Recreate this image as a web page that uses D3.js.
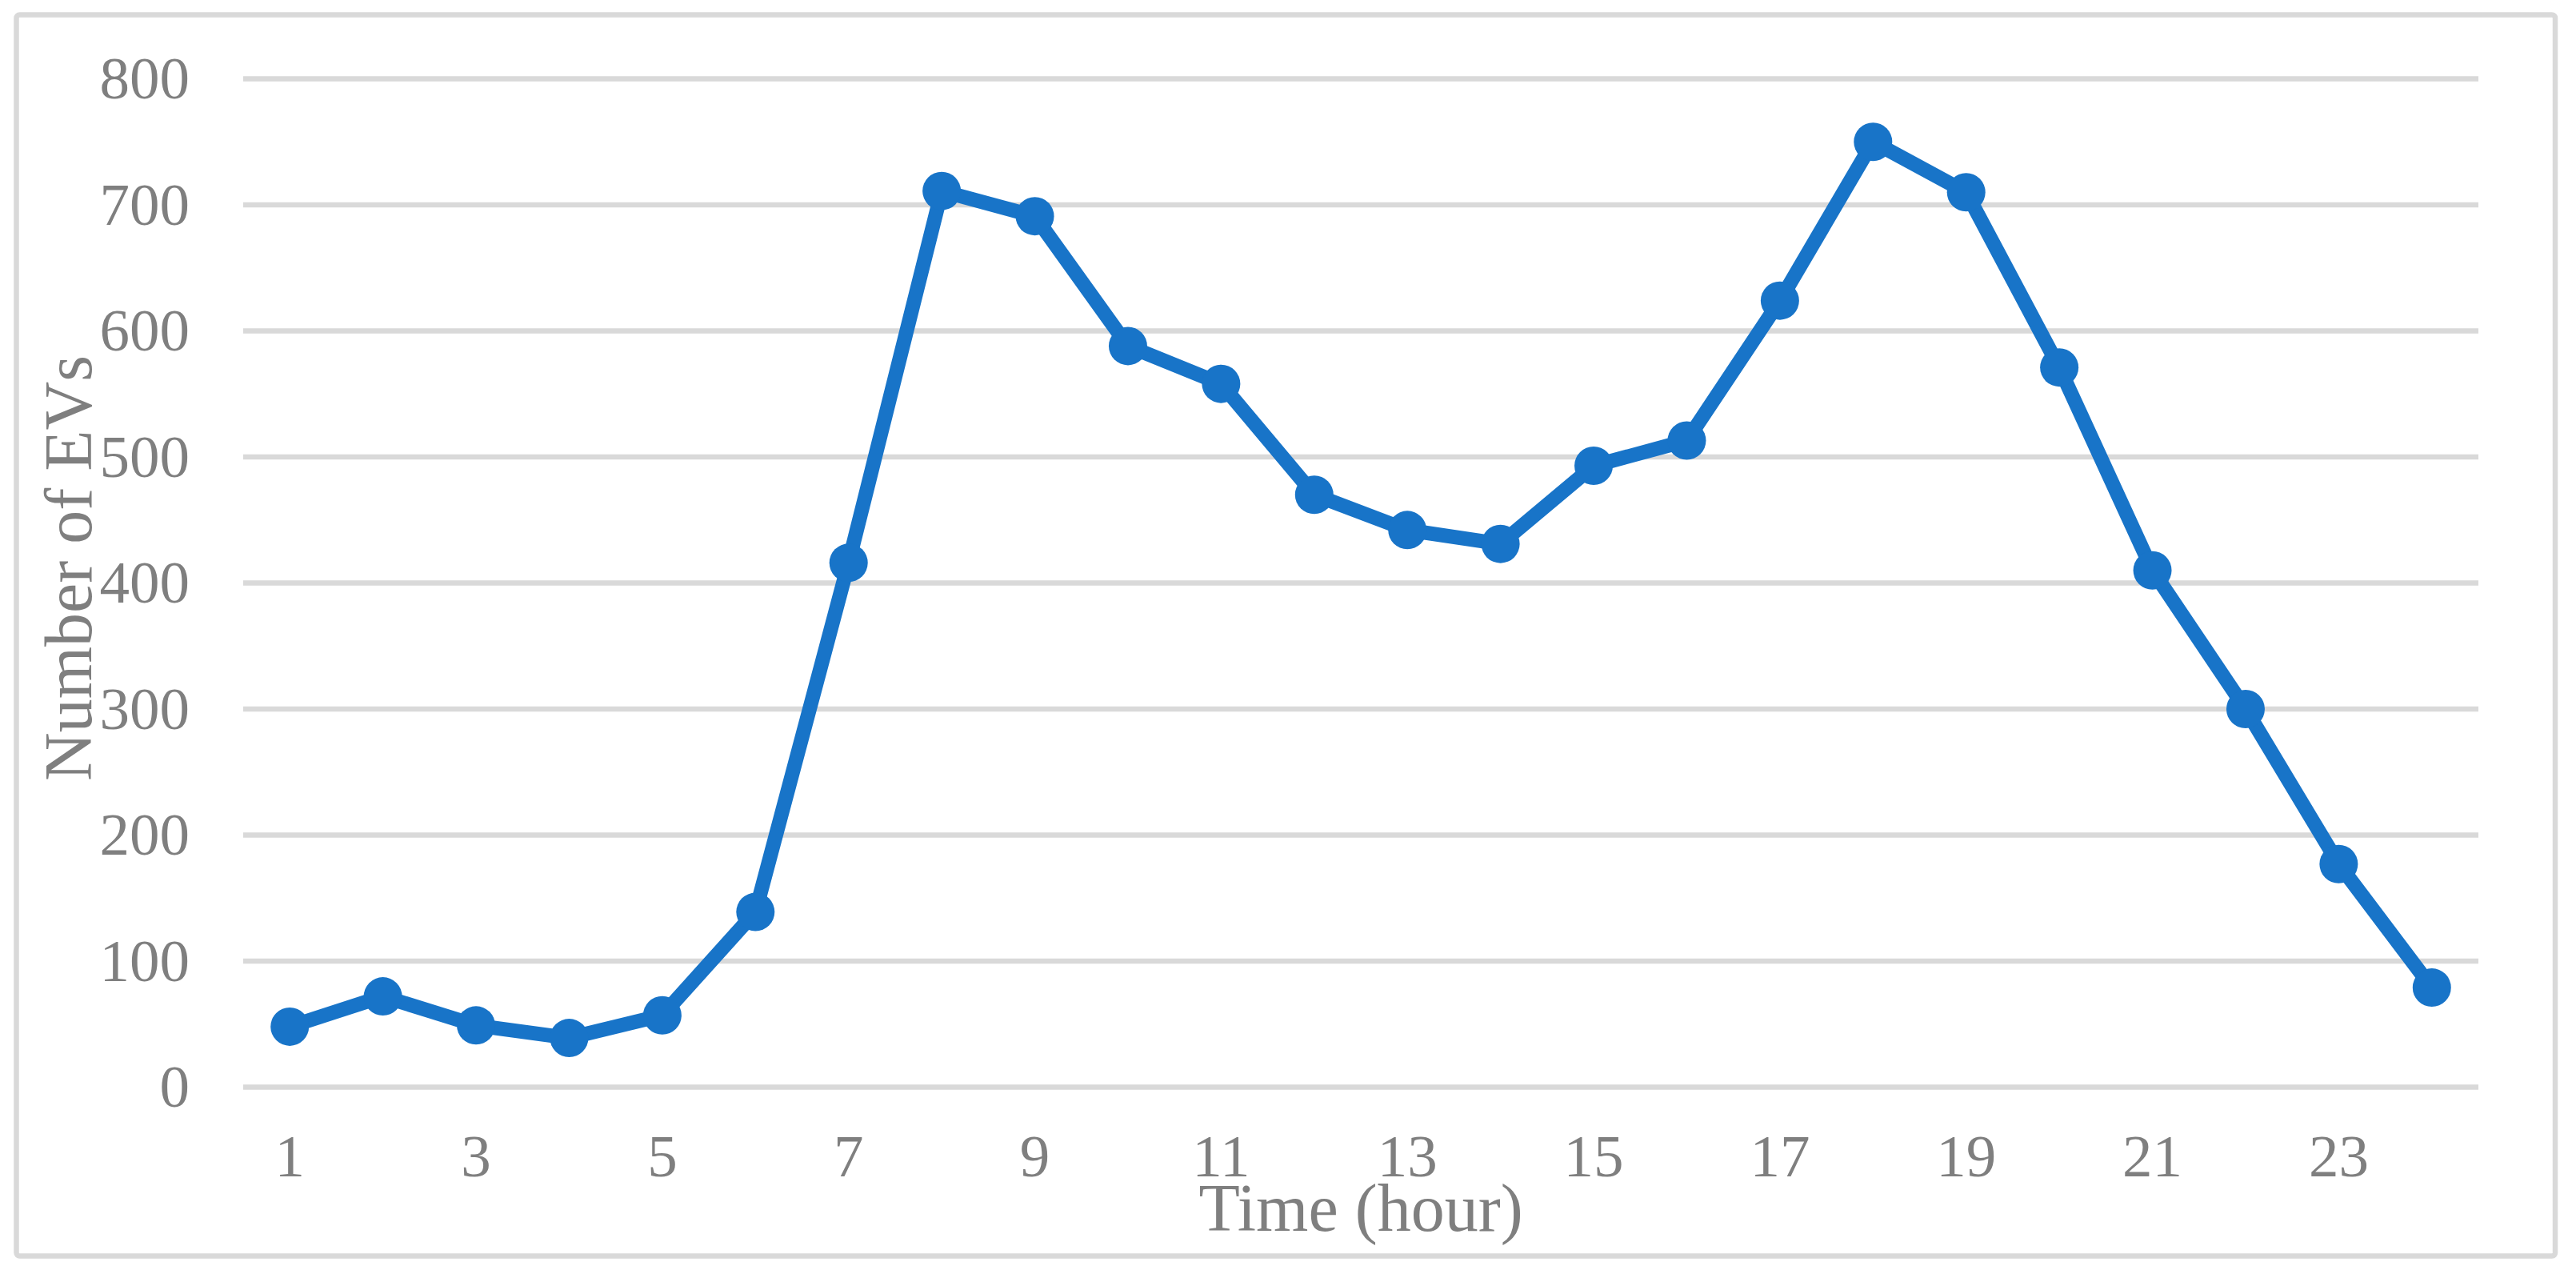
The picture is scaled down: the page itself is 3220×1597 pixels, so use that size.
<!DOCTYPE html>
<html>
<head>
<meta charset="utf-8">
<script src="https://cdn.jsdelivr.net/npm/d3@7"></script>
<style>
  body { margin: 0; background: #ffffff; }
  #chart { width: 3220px; height: 1597px; }
  .axis text { font-family: "Liberation Serif", "Times New Roman", serif; fill: #7f7f7f; }
</style>
</head>
<body>
<div id="chart"></div>
<script>
//hours of the day (categories)
var hours = [1, 2, 3, 4, 5, 6, 7, 8, 9, 10, 11, 12, 13, 14, 15, 16, 17, 18, 19, 20, 21, 22, 23, 24];

//number of EVs per hour
var evCounts = [48, 72, 49, 39, 57, 139, 416, 711, 691, 588, 558, 470, 442, 431, 493, 513, 624, 750, 710, 571, 410, 300, 177, 79];

//tick labels
var yTicks = [0, 100, 200, 300, 400, 500, 600, 700, 800];
var xTickLabels = [1, 3, 5, 7, 9, 11, 13, 15, 17, 19, 21, 23];

var data = hours.map(function(h, i) {
  return { hour: h, value: evCounts[i] };
});

//define outer size
var outerWidth = 3220;
var outerHeight = 1597;

//define plot area
var margin = { top: 98.5, right: 122, bottom: 238.5, left: 304 };
var innerWidth = outerWidth - (margin.left + margin.right);
var innerHeight = outerHeight - (margin.top + margin.bottom);

var root = d3
  .select("#chart")
  .append("svg")
  .attr("width", outerWidth)
  .attr("height", outerHeight);

root
  .append("rect")
  .attr("width", outerWidth)
  .attr("height", outerHeight)
  .attr("fill", "#ffffff");

//chart border
root
  .append("rect")
  .attr("x", 20.5)
  .attr("y", 18.5)
  .attr("width", 3173.5)
  .attr("height", 1551)
  .attr("rx", 4)
  .attr("fill", "none")
  .attr("stroke", "#d9d9d9")
  .attr("stroke-width", 6.5);

var svg = root
  .append("g")
  .attr("transform", "translate(" + margin.left + "," + margin.top + ")");

//define scales
var xScale = d3
  .scaleBand()
  .domain(hours)
  .range([0, innerWidth]);

var yScale = d3
  .scaleLinear()
  .domain([0, 800])
  .range([innerHeight, 0]);

//gridlines
svg
  .selectAll(".grid")
  .data(yTicks)
  .enter()
  .append("line")
  .attr("class", "grid")
  .attr("x1", 0)
  .attr("x2", innerWidth)
  .attr("y1", function(d) { return yScale(d); })
  .attr("y2", function(d) { return yScale(d); })
  .style("stroke", "#d9d9d9")
  .style("stroke-width", 6.5);

//y axis
var yAxis = d3.axisLeft(yScale).tickValues(yTicks).tickSize(0).tickPadding(67);

svg
  .append("g")
  .attr("class", "y axis")
  .call(yAxis)
  .selectAll("text")
  .style("font-size", "75px");

//x axis
var xAxis = d3.axisBottom(xScale).tickValues(xTickLabels).tickSize(0);

svg
  .append("g")
  .attr("class", "x axis")
  .attr("transform", "translate(0," + innerHeight + ")")
  .call(xAxis)
  .selectAll("text")
  .attr("y", 111.5)
  .attr("dy", 0)
  .style("font-size", "75px");

//remove domain lines
svg.selectAll(".domain").remove();

//axis titles
svg
  .append("text")
  .attr("x", innerWidth / 2)
  .attr("y", 1538 - margin.top)
  .attr("text-anchor", "middle")
  .style("font-family", "'Liberation Serif', 'Times New Roman', serif")
  .style("font-size", "84px")
  .style("fill", "#7f7f7f")
  .text("Time (hour)");

svg
  .append("text")
  .attr("transform", "translate(" + (114 - margin.left) + "," + (710 - margin.top) + ") rotate(-90)")
  .attr("text-anchor", "middle")
  .style("font-family", "'Liberation Serif', 'Times New Roman', serif")
  .style("font-size", "84px")
  .style("fill", "#7f7f7f")
  .text("Number of EVs");

//line
var line = d3
  .line()
  .x(function(d) { return xScale(d.hour) + xScale.bandwidth() / 2; })
  .y(function(d) { return yScale(d.value); });

svg
  .append("path")
  .datum(data)
  .attr("d", line)
  .attr("fill", "none")
  .style("stroke", "#1874c8")
  .style("stroke-width", 18)
  .style("stroke-linejoin", "round");

//markers
svg
  .selectAll(".dot")
  .data(data)
  .enter()
  .append("circle")
  .attr("class", "dot")
  .attr("cx", function(d) { return xScale(d.hour) + xScale.bandwidth() / 2; })
  .attr("cy", function(d) { return yScale(d.value); })
  .attr("r", 24)
  .style("fill", "#1874c8");
</script>
</body>
</html>
